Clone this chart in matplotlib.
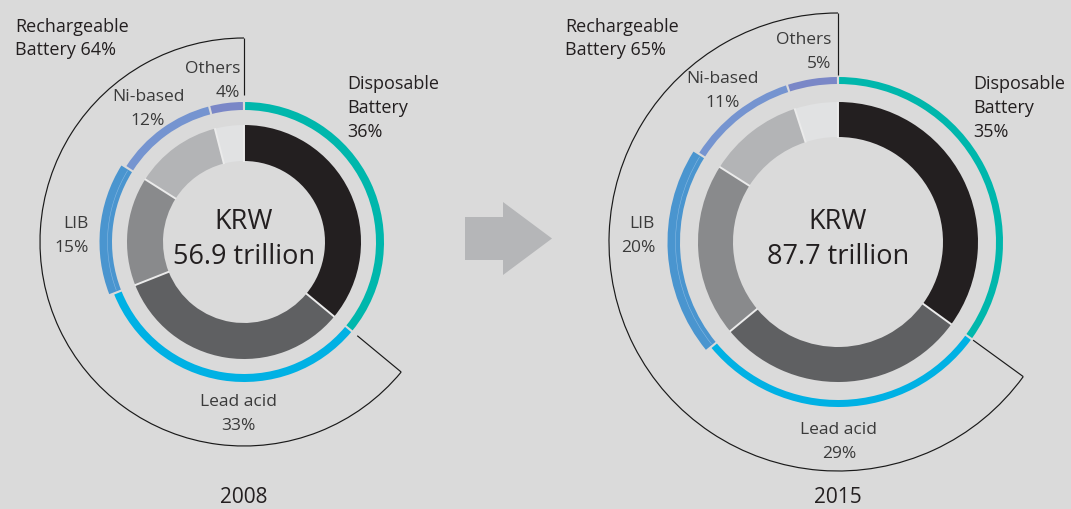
import numpy as np
import matplotlib
matplotlib.use("Agg")
import matplotlib.pyplot as plt
from matplotlib.patches import Wedge, Arc, Polygon

# ---------------- data ----------------
segments = ["Disposable\nBattery", "Lead acid", "LIB", "Ni-based", "Others"]
share_2008 = [36, 33, 15, 12, 4]
share_2015 = [35, 29, 20, 11, 5]
rechargeable = [64, 65]
totals = ["56.9", "87.7"]
years = ["2008", "2015"]

# ---------------- style ----------------
BG = "#dadada"
inner_colors = ["#231f20", "#5f6062", "#898a8c", "#b3b4b6", "#e1e2e3"]
outer_colors = ["#00b7ac", "#00b1e4", "#4a95cf", "#7594d0", "#7a87c7"]
MAIN = "#231f20"
SUB = "#3a3a3a"
FONT = "Open Sans"
plt.rcParams["font.family"] = [FONT, "DejaVu Sans"]

fig = plt.figure(figsize=(10.71, 5.09), dpi=100)
fig.patch.set_facecolor(BG)
ax = fig.add_axes([0, 0, 1, 1])
ax.set_facecolor(BG)
ax.set_xlim(0, 1071)
ax.set_ylim(509, 0)
ax.axis("off")


def th(a):
    """screen angle (deg, clockwise from 12 o'clock) -> data angle with inverted y"""
    return a - 90


def pt(cx, cy, r, a):
    t = np.deg2rad(a)
    return cx + r * np.sin(t), cy - r * np.cos(t)


def lines(x, y0, text, step, size, color, ha, weight="normal"):
    for i, s in enumerate(text.split("\n")):
        ax.text(x, y0 + i * step, s, ha=ha, va="baseline", fontsize=size,
                color=color, fontweight=weight)


layouts = [
    dict(c=(244, 242), ri=(81, 117), ro=(132, 140), lib_extra=4.5, rb=204, rt=147,
         rech=(15, 32), disp=(347, 89),
         sub=[None, (238, 406, "center"), (89, 228, "right"), (148, 101, "center"), (240, 73, "right")],
         center_y=(229, 264), year_y=508),
    dict(c=(838, 242), ri=(105, 140), ro=(158, 165), lib_extra=5.5, rb=229, rt=167,
         rech=(565, 32), disp=(973, 89),
         sub=[None, (839, 434, "center"), (655, 228, "right"), (723, 83, "center"), (831, 44, "right")],
         center_y=(229, 264), year_y=508),
]

shares_all = [share_2008, share_2015]

for k, (lay, shares) in enumerate(zip(layouts, shares_all)):
    cx, cy = lay["c"]
    ri_in, ri_out = lay["ri"]
    ro_in, ro_out = lay["ro"]
    cum = np.concatenate([[0], np.cumsum(shares)]) / 100.0 * 360.0

    # inner ring
    for i in range(len(shares)):
        a1, a2 = cum[i], cum[i + 1]
        ax.add_patch(Wedge((cx, cy), ri_out, th(a1), th(a2), width=ri_out - ri_in,
                           facecolor=inner_colors[i], edgecolor="none"))
    for a in cum[:-1]:
        x1, y1 = pt(cx, cy, ri_in - 0.5, a)
        x2, y2 = pt(cx, cy, ri_out + 0.5, a)
        ax.plot([x1, x2], [y1, y2], color="#ebebeb", lw=1.4, solid_capstyle="butt")

    # outer ring
    for i in range(len(shares)):
        a1, a2 = cum[i], cum[i + 1]
        r_out = ro_out + (lay["lib_extra"] if segments[i] == "LIB" else 0)
        g = 2.2 / ro_out * 180 / np.pi
        ax.add_patch(Wedge((cx, cy), r_out, th(a1 + g / 2), th(a2 - g / 2),
                           width=r_out - ro_in, facecolor=outer_colors[i], edgecolor="none"))
        if segments[i] == "LIB":
            rm = ro_in + 4.5
            ax.add_patch(Arc((cx, cy), 2 * rm, 2 * rm, theta1=th(a1 + g), theta2=th(a2 - g),
                             color="#86b8e2", lw=0.4))

    # bracket around rechargeable part
    a_d = cum[1]
    rb, rt = lay["rb"], lay["rt"]
    ax.add_patch(Arc((cx, cy), 2 * rb, 2 * rb, theta1=th(a_d), theta2=th(360),
                     color="#1a1a1a", lw=0.85))
    for a in (0, a_d):
        x1, y1 = pt(cx, cy, rt, a)
        x2, y2 = pt(cx, cy, rb, a)
        ax.plot([x1, x2], [y1, y2], color="#1a1a1a", lw=0.85, solid_capstyle="butt")

    # labels
    rx, ry = lay["rech"]
    lines(rx, ry, f"Rechargeable\nBattery {rechargeable[k]}%", 23, 13, MAIN, "left")
    dx, dy = lay["disp"]
    lines(dx, dy, f"{segments[0]}\n{shares[0]}%", 24, 13, MAIN, "left")
    for i in range(1, len(shares)):
        sx, sy, ha = lay["sub"][i]
        lines(sx, sy, f"{segments[i]}\n{shares[i]}%", 24, 12.5, SUB, ha)

    cy1, cy2 = lay["center_y"]
    ax.text(cx, cy1, "KRW", ha="center", va="baseline", fontsize=19.5, color=MAIN)
    ax.text(cx, cy2, f"{totals[k]} trillion", ha="center", va="baseline", fontsize=19.5, color=MAIN)
    ax.text(cx, lay["year_y"], years[k], ha="center", va="bottom", fontsize=15, color=MAIN)

# arrow between the two donuts
ax_x0, ax_mid, body_w, body_h, head_w, head_h = 465, 238.5, 38, 43, 49, 73
arrow = Polygon([
    (ax_x0, ax_mid - body_h / 2), (ax_x0 + body_w, ax_mid - body_h / 2),
    (ax_x0 + body_w, ax_mid - head_h / 2), (ax_x0 + body_w + head_w, ax_mid),
    (ax_x0 + body_w, ax_mid + head_h / 2), (ax_x0 + body_w, ax_mid + body_h / 2),
    (ax_x0, ax_mid + body_h / 2)], closed=True, facecolor="#b5b6b8", edgecolor="none")
ax.add_patch(arrow)

fig.savefig("out.png", dpi=100, facecolor=BG)
